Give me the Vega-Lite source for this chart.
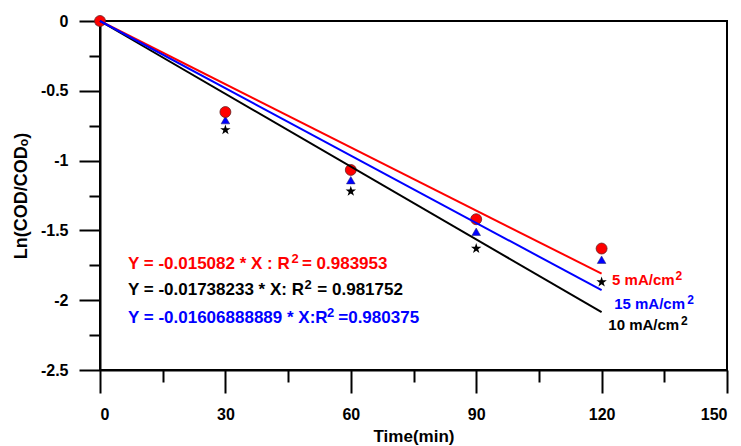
{
  "$schema": "https://vega.github.io/schema/vega-lite/v6.json",
  "width": 627,
  "height": 349,
  "autosize": "none",
  "padding": {"left": 100, "top": 21, "right": 14, "bottom": 76},
  "background": "white",
  "config": {
    "view": {"stroke": "black", "strokeWidth": 2},
    "font": "Liberation Sans",
    "axis": {
      "grid": false,
      "domainColor": "black",
      "domainWidth": 2,
      "tickColor": "black",
      "tickWidth": 2,
      "labelColor": "black",
      "labelFont": "Liberation Sans",
      "labelFontWeight": "bold",
      "labelFontSize": 16,
      "titleColor": "black",
      "titleFont": "Liberation Sans",
      "titleFontWeight": "bold",
      "titleFontSize": 17
    }
  },
  "datasets": {
    "points": [
      {"series": "5", "t": 0, "v": 0},
      {"series": "5", "t": 30, "v": -0.652},
      {"series": "5", "t": 60, "v": -1.067},
      {"series": "5", "t": 90, "v": -1.42},
      {"series": "5", "t": 120, "v": -1.63},
      {"series": "15", "t": 0, "v": 0},
      {"series": "15", "t": 30, "v": -0.71},
      {"series": "15", "t": 60, "v": -1.14},
      {"series": "15", "t": 90, "v": -1.51},
      {"series": "15", "t": 120, "v": -1.71},
      {"series": "10", "t": 0, "v": 0},
      {"series": "10", "t": 30, "v": -0.78},
      {"series": "10", "t": 60, "v": -1.22},
      {"series": "10", "t": 90, "v": -1.63},
      {"series": "10", "t": 120, "v": -1.87}
    ],
    "fits": [
      {"series": "5", "t": 0, "v": 0},
      {"series": "5", "t": 120, "v": -1.80984},
      {"series": "10", "t": 0, "v": 0},
      {"series": "10", "t": 120, "v": -2.08588},
      {"series": "15", "t": 0, "v": 0},
      {"series": "15", "t": 120, "v": -1.92827}
    ],
    "texts": [
      {"group": "label", "kind": "main", "series": "5", "t": 122.5, "v": -1.855, "text": "5 mA/cm"},
      {"group": "label", "kind": "sup", "series": "5", "t": 137.7, "v": -1.855, "text": "2"},
      {"group": "label", "kind": "main", "series": "15", "t": 123.0, "v": -2.024, "text": "15 mA/cm"},
      {"group": "label", "kind": "sup", "series": "15", "t": 140.5, "v": -2.024, "text": "2"},
      {"group": "label", "kind": "main", "series": "10", "t": 121.6, "v": -2.178, "text": "10 mA/cm"},
      {"group": "label", "kind": "sup", "series": "10", "t": 139.0, "v": -2.178, "text": "2"},
      {"group": "eq", "kind": "main", "series": "5", "t": 6.7, "v": -1.74, "text": "Y = -0.015082 * X : R"},
      {"group": "eq", "kind": "sup", "series": "5", "t": 45.8, "v": -1.74, "text": "2"},
      {"group": "eq", "kind": "main", "series": "5", "t": 48.3, "v": -1.74, "text": "= 0.983953"},
      {"group": "eq", "kind": "main", "series": "10", "t": 6.7, "v": -1.927, "text": "Y = -0.01738233 * X: R"},
      {"group": "eq", "kind": "sup", "series": "10", "t": 48.9, "v": -1.927, "text": "2"},
      {"group": "eq", "kind": "main", "series": "10", "t": 52.0, "v": -1.927, "text": "= 0.981752"},
      {"group": "eq", "kind": "main", "series": "15", "t": 6.7, "v": -2.127, "text": "Y = -0.01606888889 * X:R"},
      {"group": "eq", "kind": "sup", "series": "15", "t": 54.3, "v": -2.127, "text": "2"},
      {"group": "eq", "kind": "main", "series": "15", "t": 57.0, "v": -2.127, "text": "=0.980375"}
    ]
  },
  "encoding": {
    "x": {
      "field": "t",
      "type": "quantitative",
      "scale": {"domain": [0, 150], "nice": false, "zero": false},
      "axis": {
        "title": "Time(min)",
        "values": [0, 15, 30, 45, 60, 75, 90, 105, 120, 135, 150],
        "labelExpr": "datum.value % 30 === 0 ? toString(datum.value) : ''",
        "tickSize": {"condition": {"test": "datum.value % 30 === 0", "value": 23}, "value": 12},
        "labelPadding": 13,
        "titlePadding": 6
      }
    },
    "y": {
      "field": "v",
      "type": "quantitative",
      "scale": {"domain": [-2.5, 0], "nice": false, "zero": false},
      "axis": {
        "title": "Ln(COD/CODₒ)",
        "titleFontSize": 18,
        "values": [0, -0.25, -0.5, -0.75, -1, -1.25, -1.5, -1.75, -2, -2.25, -2.5],
        "labelExpr": "datum.value % 0.5 === 0 ? toString(datum.value) : ''",
        "tickSize": {"condition": {"test": "datum.value % 0.5 === 0", "value": 21}, "value": 11},
        "labelPadding": 11,
        "titlePadding": 10
      }
    },
    "color": {
      "field": "series",
      "type": "nominal",
      "scale": {"domain": ["5", "10", "15"], "range": ["#ff0000", "#000000", "#0000ff"]},
      "legend": null
    }
  },
  "layer": [
    {
      "data": {"name": "points"},
      "transform": [{"filter": "datum.series === '10'"}],
      "mark": {"type": "point", "filled": true, "size": 120, "opacity": 1,
        "shape": "M0,-1L0.225,-0.309L0.951,-0.309L0.363,0.118L0.588,0.809L0,0.382L-0.588,0.809L-0.363,0.118L-0.951,-0.309L-0.225,-0.309Z"}
    },
    {
      "data": {"name": "points"},
      "transform": [{"filter": "datum.series === '15'"}],
      "mark": {"type": "point", "filled": true, "size": 75, "opacity": 1, "shape": "triangle-up", "stroke": "#222266", "strokeWidth": 0.5}
    },
    {
      "data": {"name": "points"},
      "transform": [{"filter": "datum.series === '5'"}],
      "mark": {"type": "point", "filled": true, "size": 120, "opacity": 1, "shape": "circle", "stroke": "#662222", "strokeWidth": 0.8}
    },
    {
      "data": {"name": "fits"},
      "mark": {"type": "line", "strokeWidth": 2},
      "encoding": {"detail": {"field": "series"}}
    },
    {
      "data": {"name": "texts"},
      "transform": [{"filter": "datum.group === 'label' && datum.kind === 'main'"}],
      "mark": {"type": "text", "align": "left", "baseline": "middle", "fontSize": 15, "fontWeight": "bold", "font": "Liberation Sans"},
      "encoding": {"text": {"field": "text"}}
    },
    {
      "data": {"name": "texts"},
      "transform": [{"filter": "datum.group === 'label' && datum.kind === 'sup'"}],
      "mark": {"type": "text", "align": "left", "baseline": "middle", "dy": -4, "fontSize": 12, "fontWeight": "bold", "font": "Liberation Sans"},
      "encoding": {"text": {"field": "text"}}
    },
    {
      "data": {"name": "texts"},
      "transform": [{"filter": "datum.group === 'eq' && datum.kind === 'main'"}],
      "mark": {"type": "text", "align": "left", "baseline": "middle", "fontSize": 17, "fontWeight": "bold", "font": "Liberation Sans"},
      "encoding": {"text": {"field": "text"}}
    },
    {
      "data": {"name": "texts"},
      "transform": [{"filter": "datum.group === 'eq' && datum.kind === 'sup'"}],
      "mark": {"type": "text", "align": "left", "baseline": "middle", "dy": -5, "fontSize": 13, "fontWeight": "bold", "font": "Liberation Sans"},
      "encoding": {"text": {"field": "text"}}
    }
  ]
}
